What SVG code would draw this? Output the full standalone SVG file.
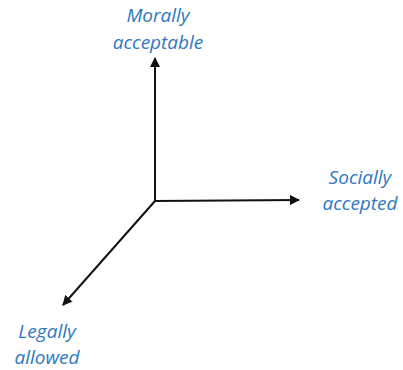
<svg xmlns="http://www.w3.org/2000/svg" width="403" height="370" viewBox="0 0 403 370">
<style>
.lbl{font-family:"Open Sans","Liberation Sans",sans-serif;font-style:italic;font-size:19px;fill:#2E78C0;text-anchor:middle}
.ax{stroke:#111;stroke-width:2;fill:none;marker-end:url(#ah)}
</style>
<defs>
<marker id="ah" viewBox="0 0 10 10" refX="9" refY="5" markerWidth="5" markerHeight="5" orient="auto" markerUnits="strokeWidth">
<path d="M0,0 L10,5 L0,10 z" fill="#111"/>
</marker>
</defs>
<rect width="403" height="370" fill="#fff"/>
<g id="connectors">
<line class="ax" x1="155" y1="202" x2="155" y2="58"/>
<line class="ax" x1="154" y1="201" x2="299" y2="200"/>
<line class="ax" x1="155" y1="201" x2="63" y2="305"/>
</g>
<g id="morally"><text class="lbl" x="158" y="22">Morally</text><text class="lbl" x="158" y="49">acceptable</text></g>
<g id="socially"><text class="lbl" x="360" y="184">Socially</text><text class="lbl" x="360" y="210">accepted</text></g>
<g id="legally"><text class="lbl" x="47" y="338">Legally</text><text class="lbl" x="47" y="364">allowed</text></g>
</svg>
